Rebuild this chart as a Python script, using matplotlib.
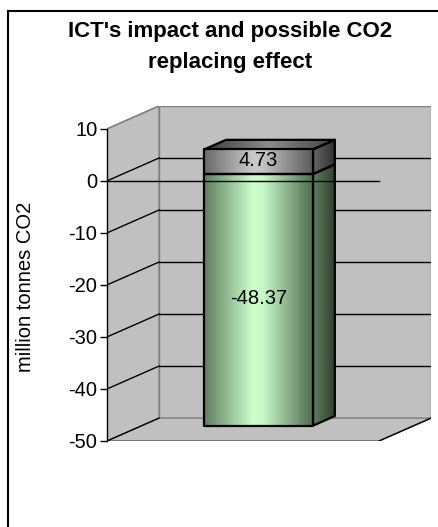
import numpy as np
import matplotlib.pyplot as plt
from matplotlib.patches import Polygon
from matplotlib.lines import Line2D
from matplotlib.colors import LinearSegmentedColormap

plt.rcParams['font.family'] = ['Liberation Sans', 'DejaVu Sans']

# data
title = "ICT's impact and possible CO2\nreplacing effect"
y_label = "million tonnes CO2"
seg_names = ["replacing effect", "ICT's impact"]
seg_values = [-48.37, 4.73]
seg_labels = ["-48.37", "4.73"]
y_ticks = [10, 0, -10, -20, -30, -40, -50]

# oblique 3d look (in data units)
DX = 0.191      # depth shift along x per full depth
DY = 4.4        # depth shift along y per full depth
BAR_X = 0.5
BAR_W = 0.40
D0, D1 = 0.3, 0.72

front_cmaps = [
    LinearSegmentedColormap.from_list('g', [(0, '#5f7f5f'), (0.45, '#ccffcc'), (0.55, '#c6f6c6'), (1, '#506c50')]),
    LinearSegmentedColormap.from_list('k', [(0, '#6a6a6a'), (0.45, '#cacaca'), (0.55, '#c2c2c2'), (1, '#5a5a5a')]),
]
side_cmaps = [
    LinearSegmentedColormap.from_list('gs', ['#5f7f5f', '#2f402f']),
    LinearSegmentedColormap.from_list('ks', ['#666666', '#303030']),
]
top_cmap = LinearSegmentedColormap.from_list('t', [(0, '#3c3c3c'), (0.5, '#8c8c8c'), (1, '#404040')])

W, H = 438, 527
fig = plt.figure(figsize=(W / 100, H / 100), dpi=100)
fig.patch.set_facecolor('white')

ymin, ymax = min(y_ticks), max(y_ticks)
ax = fig.add_axes([107 / W, (H - 441) / H, 324 / W, 335 / H])
ax.set_xlim(0, 1 + DX)
ax.set_ylim(ymin, ymax + DY)
ax.patch.set_visible(False)


def pt(x, y, d):
    return (x + d * DX, y + d * DY)


def shade(poly_pts, cmap, zorder):
    poly = Polygon(poly_pts, closed=True, facecolor='none', edgecolor='none')
    ax.add_patch(poly)
    xs = [p[0] for p in poly_pts]
    ys = [p[1] for p in poly_pts]
    im = ax.imshow(np.linspace(0, 1, 256)[None, :], cmap=cmap, aspect='auto',
                   extent=[min(xs), max(xs), min(ys), max(ys)], zorder=zorder,
                   interpolation='bilinear')
    im.set_clip_path(poly)
    ax.add_patch(Polygon(poly_pts, closed=True, facecolor='none', edgecolor='black',
                         linewidth=1.6, zorder=zorder + 0.5, joinstyle='round'))


# walls and floor
wall = '#c0c0c0'
edge = '#808080'
back = [pt(0, ymin, 1), pt(1, ymin, 1), pt(1, ymax, 1), pt(0, ymax, 1)]
left = [pt(0, ymin, 0), pt(0, ymax, 0), pt(0, ymax, 1), pt(0, ymin, 1)]
floor = [pt(0, ymin, 0), pt(1, ymin, 0), pt(1, ymin, 1), pt(0, ymin, 1)]
for p in (back, left, floor):
    ax.add_patch(Polygon(p, closed=True, facecolor=wall, edgecolor=edge, linewidth=1, zorder=1))

# gridlines on back wall and left wall
for t in y_ticks:
    c = edge if t == ymax else 'black'
    ax.add_line(Line2D(*zip(pt(0, t, 0), pt(0, t, 1)), color=c, lw=1, zorder=2))
    if ymin < t < ymax:
        ax.add_line(Line2D(*zip(pt(0, t, 1), pt(1, t, 1)), color='black', lw=1, zorder=2))

# floor front edges
ax.add_line(Line2D(*zip(pt(0, ymin, 0), pt(1, ymin, 0)), color='black', lw=1, zorder=2))
ax.add_line(Line2D(*zip(pt(1, ymin, 0), pt(1, ymin, 1)), color='black', lw=1, zorder=2))

# stacked bar (negative goes down from 0, positive up from 0)
xl, xr = BAR_X - BAR_W / 2, BAR_X + BAR_W / 2
for i, v in enumerate(seg_values):
    b, t = (v, 0) if v < 0 else (0, v)
    front = [pt(xl, b, D0), pt(xr, b, D0), pt(xr, t, D0), pt(xl, t, D0)]
    side = [pt(xr, b, D0), pt(xr, b, D1), pt(xr, t, D1), pt(xr, t, D0)]
    shade(side, side_cmaps[i], 3)
    shade(front, front_cmaps[i], 4)
    if v > 0:
        top = [pt(xl, t, D0), pt(xr, t, D0), pt(xr, t, D1), pt(xl, t, D1)]
        shade(top, top_cmap, 3)
    cx, cy = pt(BAR_X, (b + t) / 2, D0)
    ax.text(cx, cy + 0.3, seg_labels[i], ha='center', va='center', fontsize=14.5, zorder=6)

# front zero line crosses the bar
ax.add_line(Line2D([0, 1], [0, 0], color='black', lw=1, zorder=5))

ax.set_xlim(0, 1 + DX)
ax.set_ylim(ymin, ymax + DY)

# axis
for s in ('top', 'right', 'bottom'):
    ax.spines[s].set_visible(False)
ax.spines['left'].set_bounds(ymin, ymax)
ax.spines['left'].set_linewidth(1)
ax.spines['left'].set_zorder(2)
ax.set_xticks([])
ax.set_yticks(y_ticks)
ax.set_yticklabels([str(t) for t in y_ticks])
ax.tick_params(axis='y', direction='out', length=5, width=1, pad=2, labelsize=14.5)

fig.text(26 / W, 1 - 287 / H, y_label, rotation=90, ha='center', va='center', fontsize=14.5)
fig.text(230 / W, 1 - 47 / H, title, ha='center', va='center', fontsize=16,
         fontweight='bold', linespacing=1.65)

# chart frame (cut at right and bottom)
fig.add_artist(Line2D([8 / W, 8 / W], [0, 1 - 11 / H], color='black', lw=1.5, transform=fig.transFigure))
fig.add_artist(Line2D([8 / W, 1], [1 - 11 / H, 1 - 11 / H], color='black', lw=1.5, transform=fig.transFigure))

fig.savefig('out.png', dpi=100)
